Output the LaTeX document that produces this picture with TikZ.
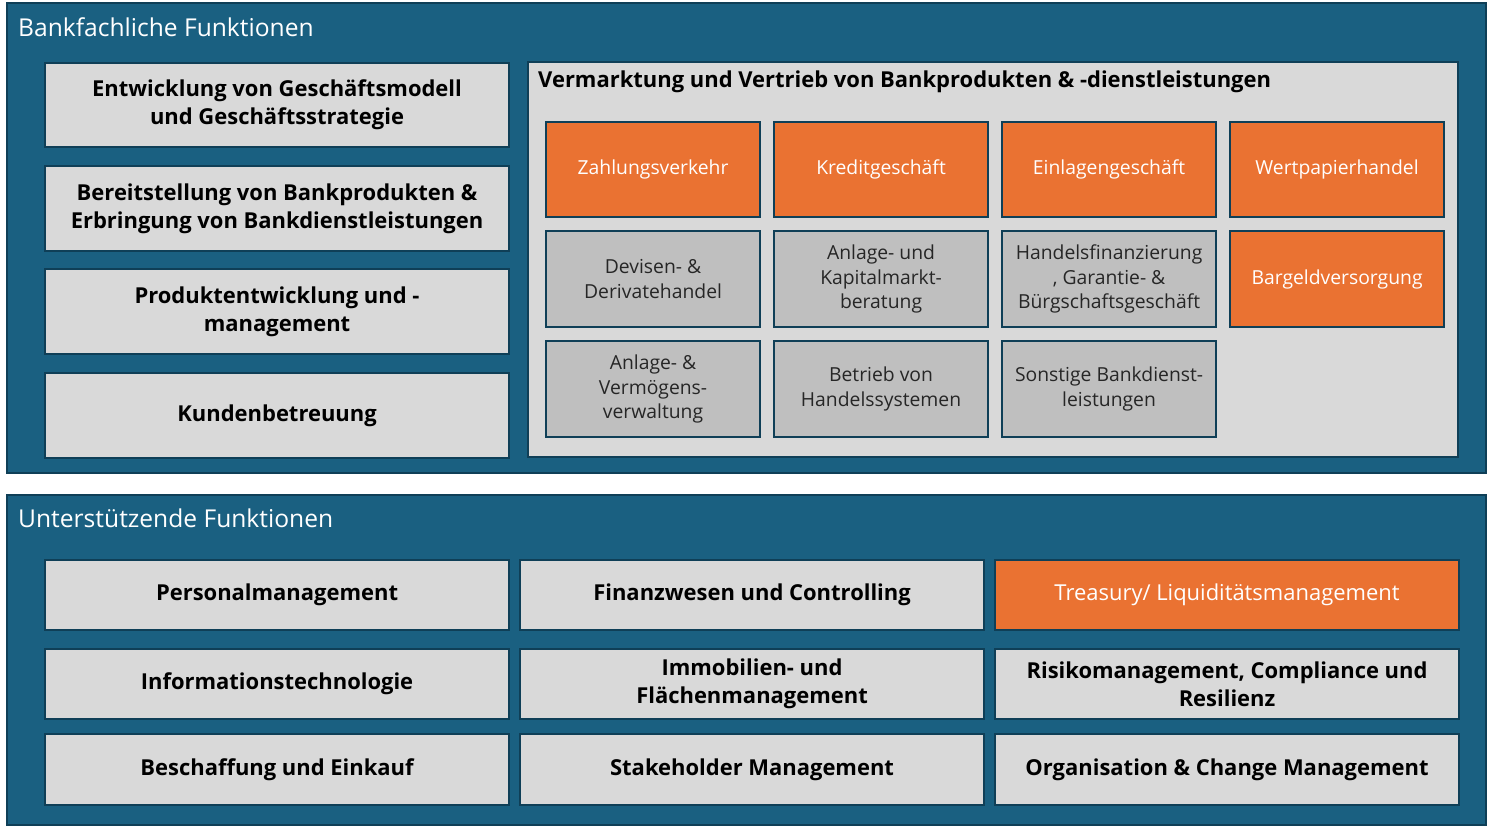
\documentclass[tikz,border=0pt]{standalone}
\usepackage{fontspec}
\setmainfont{Open Sans}
\definecolor{bankblau}{HTML}{1A6081}
\definecolor{randblau}{HTML}{0F3F57}
\definecolor{hellgrau}{HTML}{D9D9D9}
\definecolor{mittelgrau}{HTML}{BFBFBF}
\definecolor{bankorange}{HTML}{EA7232}
\tikzset{
  feld/.style={draw=randblau, line width=1.2pt, inner sep=2pt, align=center, font=\fontsize{12.5}{16}\selectfont\bfseries, text=black},
  grau/.style={feld, fill=hellgrau},
  klein/.style={feld, fill=mittelgrau, font=\fontsize{11}{14}\selectfont, text=black!85},
  orange/.style={feld, fill=bankorange, font=\fontsize{11}{14}\selectfont, text=white},
  orangegross/.style={feld, fill=bankorange, font=\fontsize{12.5}{16}\selectfont, text=white},
  titel/.style={anchor=west, text=white, font=\fontsize{14}{16}\selectfont},
}
% box from pixel corner (x1,y1) to (x2,y2)
\newcommand{\kasten}[6]{\node[#1, anchor=north west, minimum width={(#4-#2)*0.02cm}, minimum height={(#5-#3)*0.02cm}] (#6) at (#2,#3) {};}
\newcommand{\beschrift}[2]{\node[align=center, font=\fontsize{12.5}{16}\selectfont\bfseries] at (#1) {#2};}
\begin{document}
\begin{tikzpicture}[x=0.02cm,y=-0.02cm]
\useasboundingbox (0,0) rectangle (1488,827);
% Bankfachliche Funktionen
\draw[fill=bankblau, draw=randblau, line width=1.2pt] (7,3) rectangle (1486,473);
\node[titel] (t1) at (12,27) {Bankfachliche Funktionen};
\foreach \ya/\yb/\n/\txt in {62/146/a/{Entwicklung von Geschäftsmodell\\und Geschäftsstrategie},
  165/250/b/{Bereitstellung von Bankprodukten \&\\Erbringung von Bankdienstleistungen},
  268/353/c/{Produktentwicklung und -\\management},
  372/457/d/{Kundenbetreuung}}{
  \kasten{grau}{44}{\ya}{508}{\yb}{\n}
  \node[align=center, font=\fontsize{12.5}{16}\selectfont\bfseries] at (\n) {\txt};
}
\draw[fill=hellgrau, draw=randblau, line width=1.2pt] (528,62) rectangle (1458,457);
\node[anchor=west, font=\fontsize{12.5}{16}\selectfont\bfseries] (vt) at (532,82) {Vermarktung und Vertrieb von Bankprodukten \& -dienstleistungen};
% Produktfelder
\foreach \xa/\xb/\n/\txt in {545/759/z/Zahlungsverkehr, 773/987/k/Kreditgeschäft, 1001/1215/e/Einlagengeschäft, 1229/1443/w/Wertpapierhandel}{
  \kasten{orange}{\xa}{121}{\xb}{216}{\n}
  \node[font=\fontsize{11}{14}\selectfont, text=white] at (\n) {\txt};
}
\foreach \xa/\xb/\ya/\yb/\n/\txt in {545/759/230/326/dv/{Devisen- \&\\Derivatehandel},
  773/987/230/326/ak/{Anlage- und\\Kapitalmarkt-\\beratung},
  1001/1215/230/326/hf/{Handelsfinanzierung\\, Garantie- \&\\Bürgschaftsgeschäft},
  545/759/340/436/av/{Anlage- \&\\Vermögens-\\verwaltung},
  773/987/340/436/bh/{Betrieb von\\Handelssystemen},
  1001/1215/340/436/sb/{Sonstige Bankdienst-\\leistungen}}{
  \kasten{klein}{\xa}{\ya}{\xb}{\yb}{\n}
  \node[align=center, font=\fontsize{11}{14}\selectfont, text=black!85] at (\n) {\txt};
}
\kasten{orange}{1229}{230}{1443}{326}{bg}
\node[font=\fontsize{11}{14}\selectfont, text=white] at (bg) {Bargeldversorgung};
% Unterstuetzende Funktionen
\draw[fill=bankblau, draw=randblau, line width=1.2pt] (7,495) rectangle (1486,825);
\node[titel] (t2) at (12,518) {Unterstützende Funktionen};
\foreach \xa/\xb/\ya/\yb/\n/\txt in {44/508/559/629/pm/{Personalmanagement},
  519/983/559/629/fc/{Finanzwesen und Controlling},
  44/508/648/718/it/{Informationstechnologie},
  519/983/648/718/im/{Immobilien- und\\Flächenmanagement},
  994/1458/648/718/rm/{Risikomanagement, Compliance und\\Resilienz},
  44/508/733/804/be/{Beschaffung und Einkauf},
  519/983/733/804/sm/{Stakeholder Management},
  994/1458/733/804/oc/{Organisation \& Change Management}}{
  \kasten{grau}{\xa}{\ya}{\xb}{\yb}{\n}
  \node[align=center, font=\fontsize{12.5}{16}\selectfont\bfseries] at (\n) {\txt};
}
\kasten{orange}{994}{559}{1458}{629}{tr}
\node[font=\fontsize{12.5}{16}\selectfont, text=white] at (tr) {Treasury/ Liquiditätsmanagement};
\end{tikzpicture}
\end{document}
